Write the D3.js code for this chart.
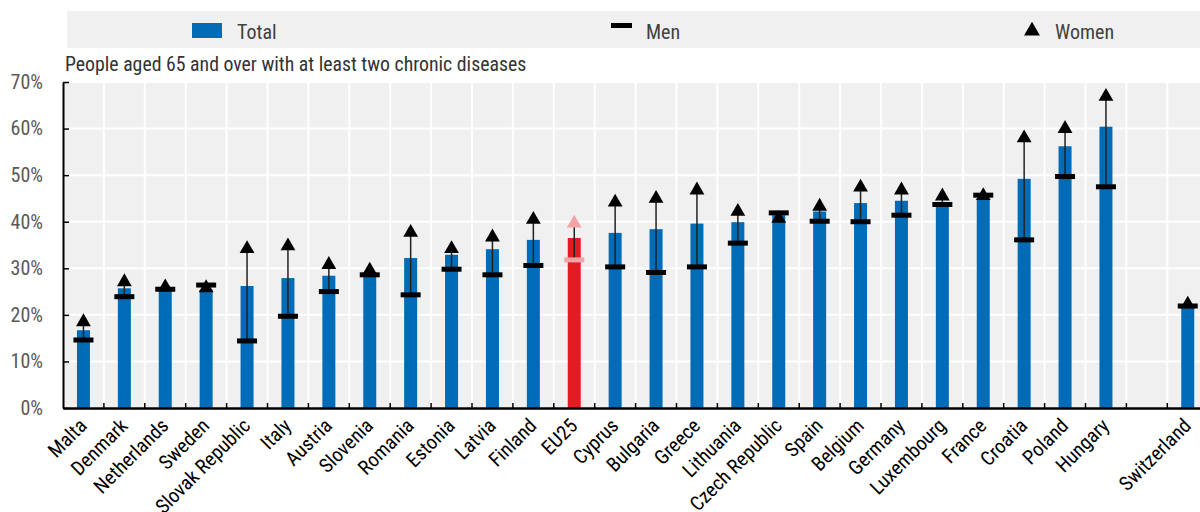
<!DOCTYPE html>
<html><head><meta charset="utf-8">
<script src="https://cdn.jsdelivr.net/npm/d3@7"></script>
<style>
html,body{margin:0;padding:0;background:#fff;}
svg text{font-family:"Liberation Sans Narrow","Arial Narrow","Roboto Condensed","Liberation Sans",sans-serif;}
</style></head>
<body><svg id="chart" width="1200" height="512"></svg>
<script>
const categories = ["Malta","Denmark","Netherlands","Sweden","Slovak Republic","Italy","Austria","Slovenia","Romania","Estonia","Latvia","Finland","EU25","Cyprus","Bulgaria","Greece","Lithuania","Czech Republic","Spain","Belgium","Germany","Luxembourg","France","Croatia","Poland","Hungary","","Switzerland"];
const totalValues = [16.7,25.7,25.3,25.4,26.2,27.9,28.4,28.6,32.2,32.9,34.1,36.1,36.5,37.6,38.4,39.6,39.9,41.4,42.2,44.0,44.5,43.6,44.7,49.2,56.2,60.4,null,21.4];
const menValues   = [14.6,23.9,25.5,26.4,14.4,19.7,25.0,28.6,24.3,29.8,28.6,30.6,31.8,30.3,29.1,30.3,35.4,41.9,40.1,40.0,41.4,43.7,45.7,36.1,49.7,47.5,null,21.9];
const womenValues = [18.7,27.3,26.2,26.0,34.4,35.0,31.0,29.8,37.9,34.4,36.9,40.7,39.9,44.4,45.2,47.0,42.4,40.9,43.5,47.6,47.0,45.7,45.8,58.2,60.2,67.1,null,22.5];
const yTicks = [0,10,20,30,40,50,60,70];
const highlight = "EU25";

const svg = d3.select("#chart");
const mLeft = 63, mTop = 82, mBottom = 408;
const step = 40.9;
const x = d3.scaleBand().domain(categories.map((c,i)=>i)).range([mLeft, mLeft + step*categories.length]).padding(0);
const y = d3.scaleLinear().domain([0,70]).range([mBottom, mTop]);

const data = categories.map((c,i)=>({c, i, t: totalValues[i], m: menValues[i], w: womenValues[i]}));

// legend
const lg = svg.append("g");
lg.append("rect").attr("x",67).attr("y",11).attr("width",1200).attr("height",37).attr("fill","#f0f0f0");
lg.append("rect").attr("x",192).attr("y",23).attr("width",30).attr("height",15).attr("fill","#006bb6");
lg.append("text").attr("x",237).attr("y",39).attr("font-size",20).attr("fill","#404040").text("Total");
lg.append("rect").attr("x",611).attr("y",23).attr("width",21).attr("height",5).attr("fill","#000");
lg.append("text").attr("x",646).attr("y",39).attr("font-size",20).attr("fill","#404040").text("Men");
lg.append("path").attr("d",d3.symbol(d3.symbolTriangle, 110)()).attr("transform","translate(1032,31)").attr("fill","#000");
lg.append("text").attr("x",1055).attr("y",39).attr("font-size",20).attr("fill","#404040").text("Women");

svg.append("text").attr("x",65).attr("y",71).attr("font-size",19.8).attr("fill","#333").text("People aged 65 and over with at least two chronic diseases");

// plot background
const W = step*categories.length;
svg.append("rect").attr("x",mLeft).attr("y",mTop).attr("width",W).attr("height",mBottom-mTop).attr("fill","#f0f0f0");

// grid
svg.append("g").selectAll("line").data(yTicks).join("line")
  .attr("x1",mLeft).attr("x2",mLeft+W).attr("y1",d=>y(d)).attr("y2",d=>y(d))
  .attr("stroke","#fff").attr("stroke-width",2);
svg.append("g").selectAll("line").data(categories.map((c,i)=>i).slice(1)).join("line")
  .attr("x1",d=>x(d)).attr("x2",d=>x(d)).attr("y1",mTop).attr("y2",mBottom)
  .attr("stroke","#fff").attr("stroke-width",2);

// bars
const valid = data.filter(d=>d.t!=null);
const bw = 13;
svg.append("g").selectAll("rect").data(valid).join("rect")
  .attr("x",d=>x(d.i)+x.bandwidth()/2-bw/2).attr("width",bw)
  .attr("y",d=>y(d.t)).attr("height",d=>y(0)-y(d.t))
  .attr("fill",d=>d.c===highlight?"#e31b23":"#006bb6");

// connecting lines
svg.append("g").selectAll("line").data(valid).join("line")
  .attr("x1",d=>x(d.i)+x.bandwidth()/2).attr("x2",d=>x(d.i)+x.bandwidth()/2)
  .attr("y1",d=>y(d.m)).attr("y2",d=>y(d.w))
  .attr("stroke","#222").attr("stroke-width",1.5);

// women triangles
svg.append("g").selectAll("path").data(valid).join("path")
  .attr("d",d3.symbol(d3.symbolTriangle,95)())
  .attr("transform",d=>`translate(${x(d.i)+x.bandwidth()/2},${y(d.w)+1})`)
  .attr("fill",d=>d.c===highlight?"#f4a3a8":"#000");

// men dashes
svg.append("g").selectAll("rect").data(valid).join("rect")
  .attr("x",d=>x(d.i)+x.bandwidth()/2-10).attr("width",20)
  .attr("y",d=>y(d.m)-2.5).attr("height",5)
  .attr("fill",d=>d.c===highlight?"#f4a3a8":"#000");

// y axis
const ya = svg.append("g").attr("transform",`translate(${mLeft},0)`)
  .call(d3.axisLeft(y).tickValues(yTicks).tickFormat(d=>d+"%").tickSizeInner(-6).tickSizeOuter(0).tickPadding(20));
ya.attr("font-family",null);
ya.select(".domain").attr("stroke","#000").attr("stroke-width",2);
ya.selectAll(".tick line").attr("stroke","#000").attr("stroke-width",1.5);
ya.selectAll("text").attr("font-size",20).attr("fill","#595959");

// x axis
const xa = svg.append("g").attr("transform",`translate(0,${mBottom})`)
  .call(d3.axisBottom(x).tickValues([]).tickSizeOuter(0));
xa.select(".domain").attr("stroke","#000").attr("stroke-width",2.5);
svg.append("g").selectAll("line").data(categories.map((c,i)=>i).slice(1)).join("line")
  .attr("x1",d=>x(d)).attr("x2",d=>x(d)).attr("y1",mBottom-5).attr("y2",mBottom)
  .attr("stroke","#000").attr("stroke-width",1.5);
svg.append("g").selectAll("text").data(data.filter(d=>d.c!=="")).join("text")
  .attr("transform",d=>`translate(${x(d.i)+x.bandwidth()/2+4.5},427) rotate(-45)`)
  .attr("text-anchor","end").attr("font-size",20).attr("fill","#000")
  .text(d=>d.c);
</script></body></html>
